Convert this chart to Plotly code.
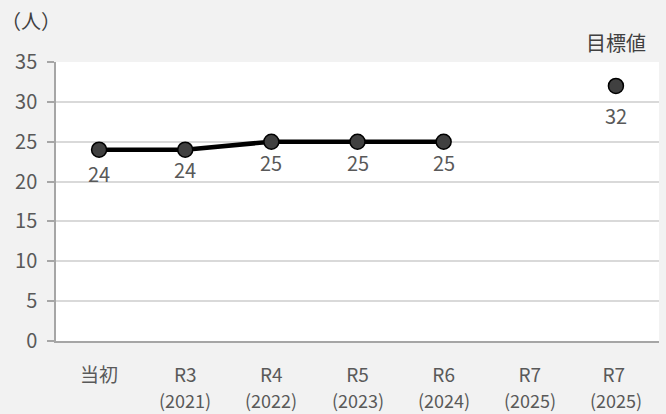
import plotly.graph_objects as go

categories = ["当初", "R3", "R4", "R5", "R6", "R7", "R7 "]
years = ["", "(2021)", "(2022)", "(2023)", "(2024)", "(2025)", "(2025)"]
actual = [24, 24, 25, 25, 25, None, None]
target = [None, None, None, None, None, None, 32]
target_label = "目標値"
unit_label = "（人）"
y_ticks = [0, 5, 10, 15, 20, 25, 30, 35]
label_offsets = [24, 20, 21, 21, 21, 0, 30]

FONT = "Noto Sans CJK JP"
TXT = "#595959"
x_idx = list(range(len(categories)))

fig = go.Figure()
fig.add_trace(go.Scatter(
    x=x_idx, y=actual, mode="lines+markers",
    line=dict(color="#000000", width=4.5),
    marker=dict(size=15, color="#404040", line=dict(color="#000000", width=1.5)),
    cliponaxis=False, showlegend=False,
))
fig.add_trace(go.Scatter(
    x=x_idx, y=target, mode="markers",
    marker=dict(size=15, color="#404040", line=dict(color="#000000", width=1.5)),
    cliponaxis=False, showlegend=False,
))

annotations = [
    dict(text=unit_label, xref="paper", yref="paper", x=-0.095, y=1.15,
         xanchor="left", yanchor="middle", showarrow=False,
         font=dict(family=FONT, size=20, color="#404040")),
    dict(text=target_label, xref="x", yref="paper", x=6, y=1.07,
         xanchor="center", yanchor="middle", showarrow=False,
         font=dict(family=FONT, size=20, color="#404040")),
]
for i in x_idx:
    v = actual[i] if actual[i] is not None else target[i]
    if v is None:
        continue
    annotations.append(dict(text=str(v), xref="x", yref="y", x=i, y=v,
                            yshift=-label_offsets[i], xanchor="center", yanchor="middle",
                            showarrow=False, font=dict(family=FONT, size=20, color=TXT)))
for i, yr in enumerate(years):
    if yr:
        annotations.append(dict(text=yr, xref="x", yref="paper", x=i, y=-0.212,
                                xanchor="center", yanchor="middle", showarrow=False,
                                font=dict(family=FONT, size=18, color=TXT)))

fig.update_layout(
    width=666, height=414,
    margin=dict(l=56, r=7, t=62, b=73),
    paper_bgcolor="#f2f2f2", plot_bgcolor="#ffffff",
    font=dict(family=FONT, size=18, color=TXT),
    annotations=annotations,
    xaxis=dict(
        tickmode="array", tickvals=x_idx, ticktext=categories,
        range=[-0.5, 6.5], showgrid=False, zeroline=False,
        showline=True, linecolor="#a6a6a6", linewidth=1.5,
        ticks="", tickfont=dict(family=FONT, size=19, color=TXT),
        ticklabelstandoff=16,
    ),
    yaxis=dict(
        range=[0, 35], tickvals=y_ticks, showgrid=True,
        gridcolor="#d9d9d9", gridwidth=1.5, zeroline=False,
        showline=True, linecolor="#a6a6a6", linewidth=1.5,
        ticks="outside", ticklen=7, tickcolor="#a6a6a6", tickwidth=1.5,
        ticklabelstandoff=6,
        tickfont=dict(family=FONT, size=20, color=TXT),
    ),
)

fig.write_html("out.html", config={"displayModeBar": False},
               post_script="document.body.style.margin='0';document.body.style.overflow='hidden';")
